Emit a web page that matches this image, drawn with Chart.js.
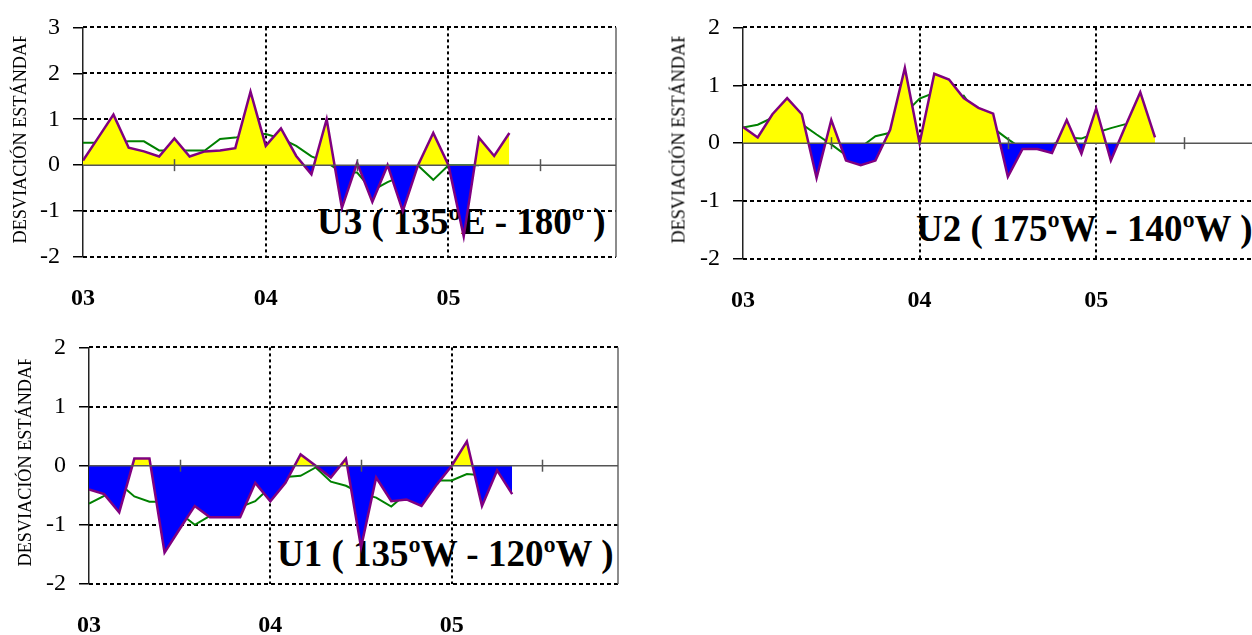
<!DOCTYPE html>
<html>
<head>
<meta charset="utf-8">
<script src="https://cdn.jsdelivr.net/npm/chart.js@4.4.0/dist/chart.umd.min.js"></script>
<style>
  html, body { margin: 0; padding: 0; overflow: hidden; background: #fff; }
  #page { position: relative; width: 1252px; height: 635px; overflow: hidden; }
  canvas { position: absolute; z-index: 1; }
  .zona {
    position: absolute; z-index: 0; color: #000; white-space: nowrap;
    font: bold 37px "Liberation Serif", "Times New Roman", serif; line-height: 37px;
  }
  .ytitle {
    position: absolute; z-index: 2; width: 207px; height: 20px; overflow: hidden;
    font: 18.2px "Liberation Serif", "Times New Roman", serif; line-height: 20px;
    white-space: nowrap; color: #000; transform: rotate(-90deg);
  }
</style>
</head>
<body>
<div id="page"></div>
<script>
// meses de la serie (ene 2003 - may 2005)
const meses = [
  '2003-01','2003-02','2003-03','2003-04','2003-05','2003-06','2003-07','2003-08','2003-09','2003-10','2003-11','2003-12',
  '2004-01','2004-02','2004-03','2004-04','2004-05','2004-06','2004-07','2004-08','2004-09','2004-10','2004-11','2004-12',
  '2005-01','2005-02','2005-03','2005-04','2005-05'
];
const ticksAnio = ['2003-01', '2004-01', '2005-01'];
const etiquetasAnio = ['03', '04', '05'];
const marcasSemestre = ['2003-07', '2004-07', '2005-07'];

// U3 (135ºE - 180º)
const u3Anomalia = [0.1, 0.6, 1.1, 0.38, 0.3, 0.19, 0.58, 0.19, 0.3, 0.32, 0.37, 1.6,
                    0.42, 0.8, 0.2, -0.2, 1.0, -0.93, 0.05, -0.8, 0.0, -1.0, 0.0, 0.7,
                    0.0, -1.55, 0.6, 0.2, 0.7];
const u3Media = [0.49, 0.49, 0.49, 0.52, 0.52, 0.32, 0.32, 0.32, 0.32, 0.57, 0.6, 0.68,
                 0.68, 0.58, 0.42, 0.19, 0.06, -0.16, -0.16, -0.55, -0.37, -0.23, -0.01, -0.32,
                 0.0, 0.0, 0.0];

// U2 (175ºW - 140ºW)
const u2Anomalia = [0.28, 0.1, 0.5, 0.78, 0.5, -0.6, 0.4, -0.3, -0.38, -0.3, 0.23, 1.3,
                    0.0, 1.2, 1.1, 0.78, 0.61, 0.51, -0.58, -0.1, -0.1, -0.17, 0.4, -0.18,
                    0.6, -0.3, 0.3, 0.88, 0.1];
const u2Media = [0.27, 0.32, 0.44, 0.26, 0.33, 0.15, -0.02, -0.21, -0.07, 0.12, 0.18, 0.51,
                 0.77, 0.87, 0.75, 0.82, 0.46, 0.26, 0.07, -0.1, -0.1, -0.03, 0.1, 0.08,
                 0.18, 0.26, 0.33];

// U1 (135ºW - 120ºW)
const u1Anomalia = [-0.4, -0.48, -0.79, 0.12, 0.12, -1.47, -1.07, -0.68, -0.87, -0.87, -0.87, -0.29,
                    -0.6, -0.29, 0.19, 0.0, -0.2, 0.12, -1.38, -0.2, -0.6, -0.57, -0.68, -0.32,
                    0.0, 0.41, -0.68, -0.08, -0.48];
const u1Media = [-0.64, -0.51, -0.3, -0.52, -0.61, -0.61, -0.8, -1.0, -0.85, -0.7, -0.7, -0.6,
                 -0.36, -0.19, -0.17, -0.03, -0.27, -0.34, -0.47, -0.54, -0.69, -0.47, -0.44, -0.25,
                 -0.25, -0.14, -0.16];

const tituloY = 'DESVIACIÓN ESTÁNDAR';

// mes -> posición en el eje x (meses desde ene 2003)
function idx(mes) {
  const [a, m] = mes.split('-').map(Number);
  return (a - 2003) * 12 + (m - 1);
}
const toPts = vals => vals.map((v, i) => ({ x: idx(meses[i]), y: v }));

const fuente = '"Liberation Serif", "Times New Roman", serif';

// rejilla punteada, borde derecho, línea cero y marcas semestrales
const marco = {
  id: 'marco',
  beforeDatasetsDraw(chart) {
    const { ctx, chartArea: a, scales: { x, y } } = chart;
    ctx.save();
    ctx.strokeStyle = '#000';
    ctx.lineWidth = 2;
    ctx.setLineDash([4, 3]);
    y.ticks.forEach(t => {
      if (t.value === 0) return;
      const py = Math.round(y.getPixelForValue(t.value));
      ctx.beginPath(); ctx.moveTo(a.left, py); ctx.lineTo(a.right, py); ctx.stroke();
    });
    ctx.setLineDash([3, 3]);
    x.ticks.forEach(t => {
      if (t.value === 0) return;
      const px = Math.round(x.getPixelForValue(t.value));
      ctx.beginPath(); ctx.moveTo(px, a.top); ctx.lineTo(px, a.bottom); ctx.stroke();
    });
    ctx.setLineDash([]);
    ctx.strokeStyle = '#666';
    ctx.lineWidth = 1.5;
    ctx.beginPath(); ctx.moveTo(a.right, a.top); ctx.lineTo(a.right, a.bottom); ctx.stroke();
    ctx.restore();
  },
  afterDatasetsDraw(chart) {
    const { ctx, chartArea: a, scales: { x, y } } = chart;
    const y0 = y.getPixelForValue(0);
    ctx.save();
    ctx.strokeStyle = '#555';
    ctx.lineWidth = 1.5;
    ctx.beginPath(); ctx.moveTo(a.left, y0); ctx.lineTo(a.right, y0); ctx.stroke();
    marcasSemestre.forEach(m => {
      const px = Math.round(x.getPixelForValue(idx(m))) + 0.5;
      ctx.beginPath(); ctx.moveTo(px, y0 - 6); ctx.lineTo(px, y0 + 6); ctx.stroke();
    });
    ctx.restore();
  }
};

const paneles = [
  { anom: u3Anomalia, media: u3Media, ymin: -2, ymax: 3, nombre: 'U3 ( 135ºE - 180º )',
    box: { left: 0, top: 0, w: 620, h: 310, padTop: 22, padRight: 4, yw: 83, xh: 53 },
    tit: { left: 317, top: 203 }, yt: { cx: 19.5, cy: 139.5 } },
  { anom: u2Anomalia, media: u2Media, ymin: -2, ymax: 2, nombre: 'U2 ( 175ºW - 140ºW )',
    box: { left: 660, top: 0, w: 600, h: 310, padTop: 21, padRight: 2, yw: 83, xh: 51 },
    tit: { left: 916, top: 210 }, yt: { cx: 678.5, cy: 139.5 } },
  { anom: u1Anomalia, media: u1Media, ymin: -2, ymax: 2, nombre: 'U1 ( 135ºW - 120ºW )',
    box: { left: 0, top: 320, w: 622, h: 315, padTop: 25, padRight: 4, yw: 89, xh: 51 },
    tit: { left: 277, top: 535 }, yt: { cx: 24, cy: 462.5 } }
];

const page = document.getElementById('page');

paneles.forEach(p => {
  const t = document.createElement('div');
  t.className = 'zona';
  t.style.left = p.tit.left + 'px';
  t.style.top = p.tit.top + 'px';
  t.textContent = p.nombre;
  page.appendChild(t);

  const yt = document.createElement('div');
  yt.className = 'ytitle';
  yt.style.left = (p.yt.cx - 103.5) + 'px';
  yt.style.top = (p.yt.cy - 10) + 'px';
  yt.textContent = tituloY;
  page.appendChild(yt);

  const c = document.createElement('canvas');
  c.width = p.box.w; c.height = p.box.h;
  c.style.left = p.box.left + 'px';
  c.style.top = p.box.top + 'px';
  page.appendChild(c);

  new Chart(c.getContext('2d'), {
    type: 'line',
    data: {
      datasets: [
        {
          data: toPts(p.anom),
          borderColor: '#800080',
          borderWidth: 2.5,
          pointRadius: 0,
          tension: 0,
          fill: { target: 'origin', above: '#ffff00', below: '#0000ff' }
        },
        {
          data: toPts(p.media),
          borderColor: '#008000',
          borderWidth: 2,
          pointRadius: 0,
          tension: 0,
          fill: false
        }
      ]
    },
    options: {
      responsive: false,
      animation: false,
      devicePixelRatio: 1,
      layout: { padding: { top: p.box.padTop, right: p.box.padRight, left: 0, bottom: 0 } },
      plugins: { legend: { display: false }, tooltip: { enabled: false } },
      scales: {
        x: {
          type: 'linear',
          min: 0,
          max: 35,
          afterBuildTicks: s => { s.ticks = ticksAnio.map(m => ({ value: idx(m) })); },
          afterFit: s => { s.height = p.box.xh; },
          grid: { display: false, drawTicks: false },
          border: { display: false },
          ticks: {
            autoSkip: false,
            maxRotation: 0,
            padding: 27,
            color: '#000',
            font: { family: fuente, size: 24, weight: 'bold' },
            callback: v => etiquetasAnio[ticksAnio.map(idx).indexOf(v)]
          }
        },
        y: {
          min: p.ymin,
          max: p.ymax,
          afterFit: s => { s.width = p.box.yw; },
          grid: { drawOnChartArea: false, drawTicks: true, tickLength: 10, color: '#000', lineWidth: 1.5 },
          border: { display: true, color: '#222', width: 1.5 },
          ticks: {
            stepSize: 1,
            padding: 13,
            color: '#000',
            font: { family: fuente, size: 24 }
          }
        }
      }
    },
    plugins: [marco]
  });
});
</script>
</body>
</html>
